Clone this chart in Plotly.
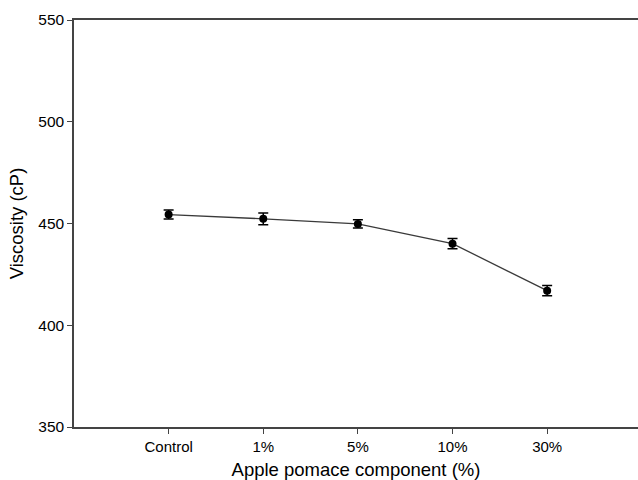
import plotly.graph_objects as go

categories = ["Control", "1%", "5%", "10%", "30%"]
viscosity = [454.4, 452.3, 449.8, 440.1, 417.0]
errors = [2.2, 2.9, 2.0, 2.5, 2.5]
y_ticks = [350, 400, 450, 500, 550]

axis_color = "#444444"
font_family = "Liberation Sans, Arial, sans-serif"

fig = go.Figure()
fig.add_trace(go.Scatter(
    x=list(range(len(categories))),
    y=viscosity,
    mode="lines+markers",
    line=dict(color="#3a3a3a", width=1.3),
    marker=dict(color="black", size=8, symbol="circle"),
    error_y=dict(type="data", array=errors, visible=True, color="black", thickness=1.5, width=5),
    showlegend=False,
))

fig.update_layout(
    width=638, height=480,
    margin=dict(l=74, r=0, t=20, b=53),
    paper_bgcolor="white", plot_bgcolor="white",
    font=dict(family=font_family, color="black"),
    xaxis=dict(
        range=[-1, 4.96],
        tickmode="array",
        tickvals=list(range(len(categories))),
        ticktext=categories,
        showgrid=False, zeroline=False,
        showline=True, linecolor=axis_color, linewidth=1.5,
        mirror=True,
        ticks="outside", ticklen=5, tickcolor=axis_color, tickwidth=1,
        tickfont=dict(size=15, family=font_family),
        title=dict(text="Apple pomace component (%)", font=dict(size=18.5, family=font_family), standoff=9),
    ),
    yaxis=dict(
        range=[350, 550],
        tickvals=y_ticks,
        showgrid=False, zeroline=False,
        showline=True, linecolor=axis_color, linewidth=1.5,
        ticks="outside", ticklen=5, tickcolor=axis_color, tickwidth=1,
        tickfont=dict(size=15.5, family=font_family),
        title=dict(text="Viscosity (cP)", font=dict(size=18.5, family=font_family), standoff=10),
    ),
)

fig.write_html("out.html")
